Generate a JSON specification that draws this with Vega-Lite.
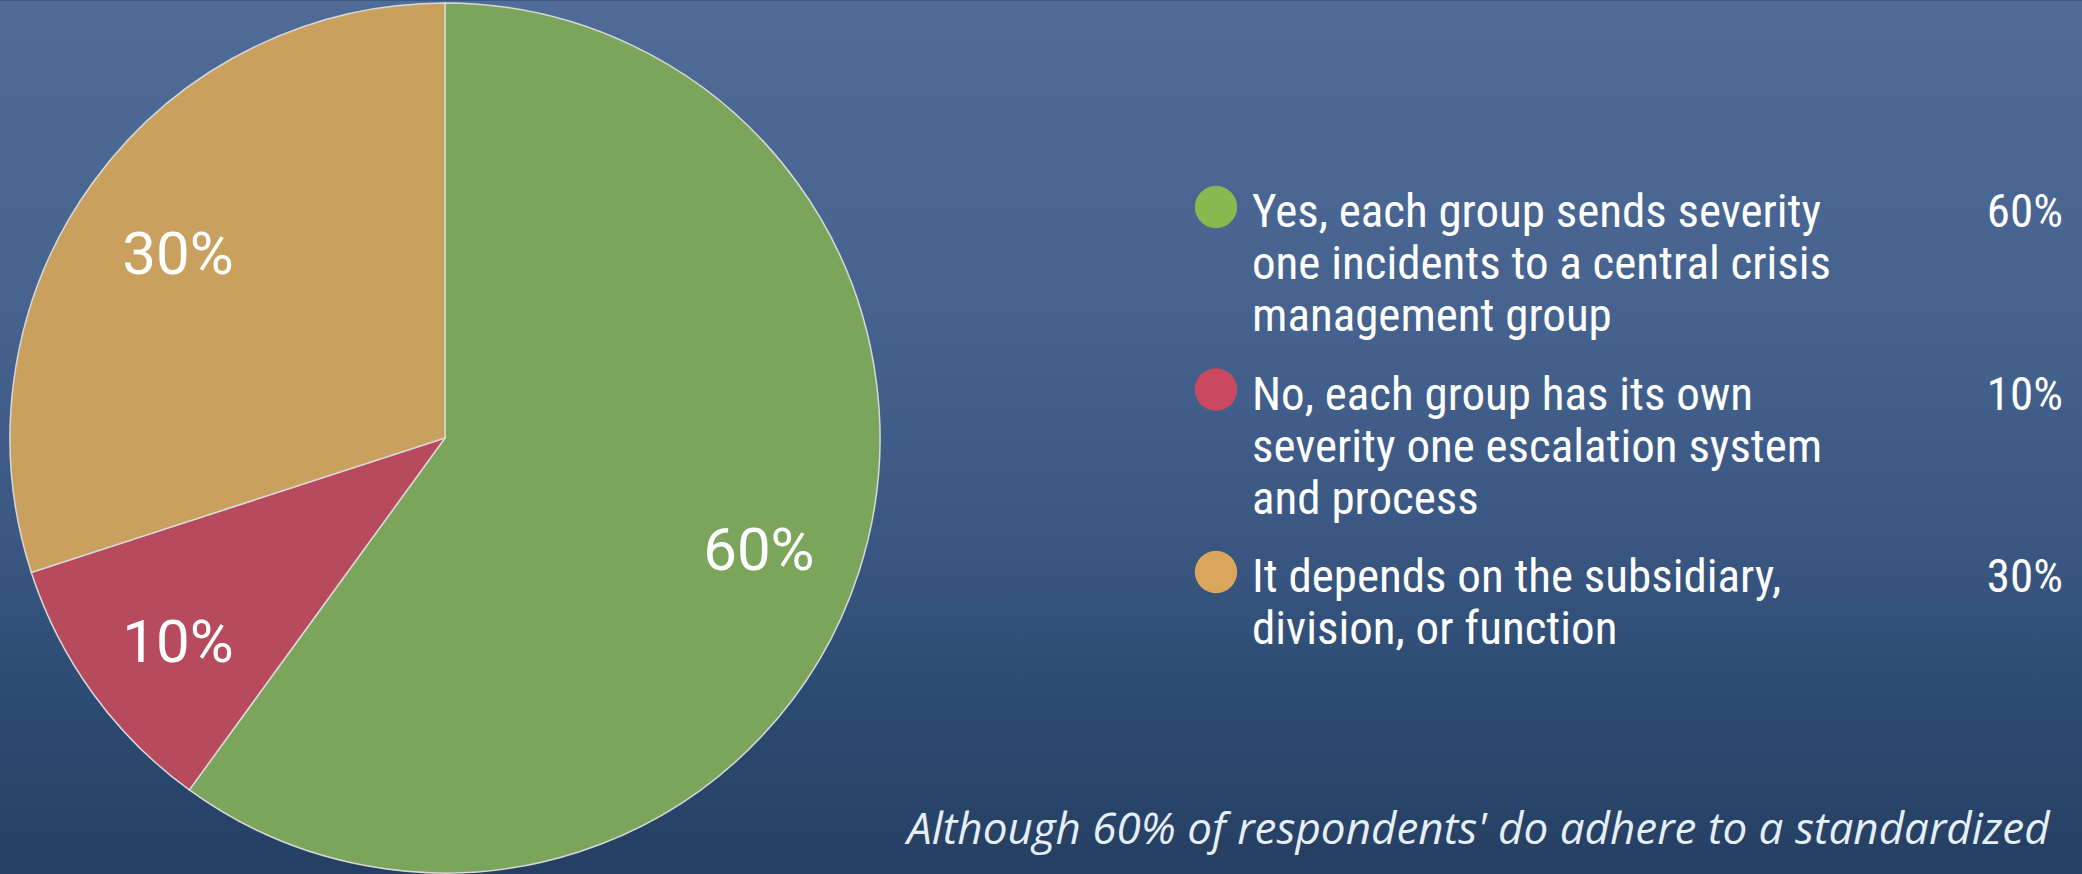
{
  "$schema": "https://vega.github.io/schema/vega-lite/v6.json",
  "background": "#3A5883",
  "padding": 0,
  "spacing": 0,
  "config": {
    "view": {
      "stroke": null,
      "fill": {
        "gradient": "linear",
        "x1": 0, "y1": 0, "x2": 0, "y2": 1,
        "stops": [
          {"offset": 0, "color": "#4F6C98"},
          {"offset": 0.35, "color": "#46638F"},
          {"offset": 0.6, "color": "#3A5883"},
          {"offset": 0.8, "color": "#2C4B72"},
          {"offset": 1, "color": "#253F62"}
        ]
      }
    }
  },
  "data": {
    "values": [
      {"answer": "Yes, each group sends severity one incidents to a central crisis management group", "label": "Yes, each group sends severity|one incidents to a central crisis|management group", "value": 60, "pct": "60%"},
      {"answer": "No, each group has its own severity one escalation system and process", "label": "No, each group has its own|severity one escalation system|and process", "value": 10, "pct": "10%"},
      {"answer": "It depends on the subsidiary, division, or function", "label": "It depends on the subsidiary,|division, or function", "value": 30, "pct": "30%"}
    ]
  },
  "resolve": {"scale": {"color": "independent"}},
  "hconcat": [
    {
      "width": 890,
      "height": 874,
      "layer": [
        {
          "mark": {
            "type": "rect",
            "fill": {
              "gradient": "linear",
              "x1": 0, "y1": 0, "x2": 0, "y2": 1,
              "stops": [
                {"offset": 0, "color": "#4F6C98"},
                {"offset": 0.35, "color": "#46638F"},
                {"offset": 0.6, "color": "#3A5883"},
                {"offset": 0.8, "color": "#2C4B72"},
                {"offset": 1, "color": "#253F62"}
              ]
            }
          },
          "encoding": {
            "x": {"datum": 0, "type": "quantitative", "axis": null, "scale": {"domain": [0, 1], "nice": false, "zero": false}},
            "x2": {"datum": 1},
            "y": {"datum": 0, "type": "quantitative", "axis": null, "scale": {"domain": [0, 1], "nice": false, "zero": false}},
            "y2": {"datum": 1}
          }
        },
        {
          "mark": {"type": "arc", "outerRadius": 435, "stroke": "#d8d8d8", "strokeWidth": 1.5},
          "encoding": {
            "theta": {"field": "value", "type": "quantitative", "stack": true},
            "order": {"field": "answer", "sort": "descending"},
            "color": {
              "field": "answer", "type": "nominal", "legend": null,
              "scale": {
                "domain": ["Yes, each group sends severity one incidents to a central crisis management group", "No, each group has its own severity one escalation system and process", "It depends on the subsidiary, division, or function"],
                "range": ["#7AA55A", "#B84A5E", "#C9A05E"]
              }
            }
          }
        },
        {
          "mark": {"type": "text", "radius": 330, "font": "Roboto", "fontSize": 60, "fill": "#ffffff", "align": "center", "baseline": "middle", "dy": 12},
          "encoding": {
            "theta": {"field": "value", "type": "quantitative", "stack": true},
            "order": {"field": "answer", "sort": "descending"},
            "text": {"field": "pct", "type": "nominal"}
          }
        }
      ]
    },
    {
      "width": 1192,
      "height": 874,
      "title": {
        "text": "Although 60% of respondents' do adhere to a standardized",
        "orient": "bottom",
        "anchor": "start",
        "offset": 0,
        "dx": 17,
        "dy": -31,
        "baseline": "alphabetic",
        "font": "Open Sans",
        "fontStyle": "italic",
        "fontWeight": "normal",
        "fontSize": 44,
        "color": "#E6EEF6"
      },
      "encoding": {
        "y": {
          "field": "answer", "type": "nominal", "axis": null,
          "scale": {
            "type": "point", "padding": 0, "range": [206, 571],
            "domain": ["Yes, each group sends severity one incidents to a central crisis management group", "No, each group has its own severity one escalation system and process", "It depends on the subsidiary, division, or function"]
          }
        }
      },
      "layer": [
        {
          "mark": {"type": "point", "filled": true, "size": 1800, "opacity": 1, "xOffset": -36},
          "encoding": {
            "x": {"datum": "label", "type": "nominal", "axis": null, "scale": {"type": "point", "padding": 0, "domain": ["label", "pct"], "range": [362, 1173]}},
            "color": {
              "field": "answer", "type": "nominal", "legend": null,
              "scale": {
                "domain": ["Yes, each group sends severity one incidents to a central crisis management group", "No, each group has its own severity one escalation system and process", "It depends on the subsidiary, division, or function"],
                "range": ["#86B94F", "#CC4A5F", "#D9A65B"]
              }
            }
          }
        },
        {
          "mark": {"type": "text", "align": "left", "baseline": "alphabetic", "dy": 20, "lineBreak": "|", "lineHeight": 52, "font": "Roboto Condensed, Liberation Sans Narrow, Roboto", "fontSize": 47, "fill": "#ffffff"},
          "encoding": {
            "x": {"datum": "label", "type": "nominal", "axis": null, "scale": {"type": "point", "padding": 0, "domain": ["label", "pct"], "range": [362, 1173]}},
            "text": {"field": "label", "type": "nominal"}
          }
        },
        {
          "mark": {"type": "text", "align": "right", "baseline": "alphabetic", "dy": 20, "font": "Roboto Condensed, Liberation Sans Narrow, Roboto", "fontSize": 47, "fill": "#ffffff"},
          "encoding": {
            "x": {"datum": "pct", "type": "nominal", "axis": null, "scale": {"type": "point", "padding": 0, "domain": ["label", "pct"], "range": [362, 1173]}},
            "text": {"field": "pct", "type": "nominal"}
          }
        }
      ]
    }
  ]
}
